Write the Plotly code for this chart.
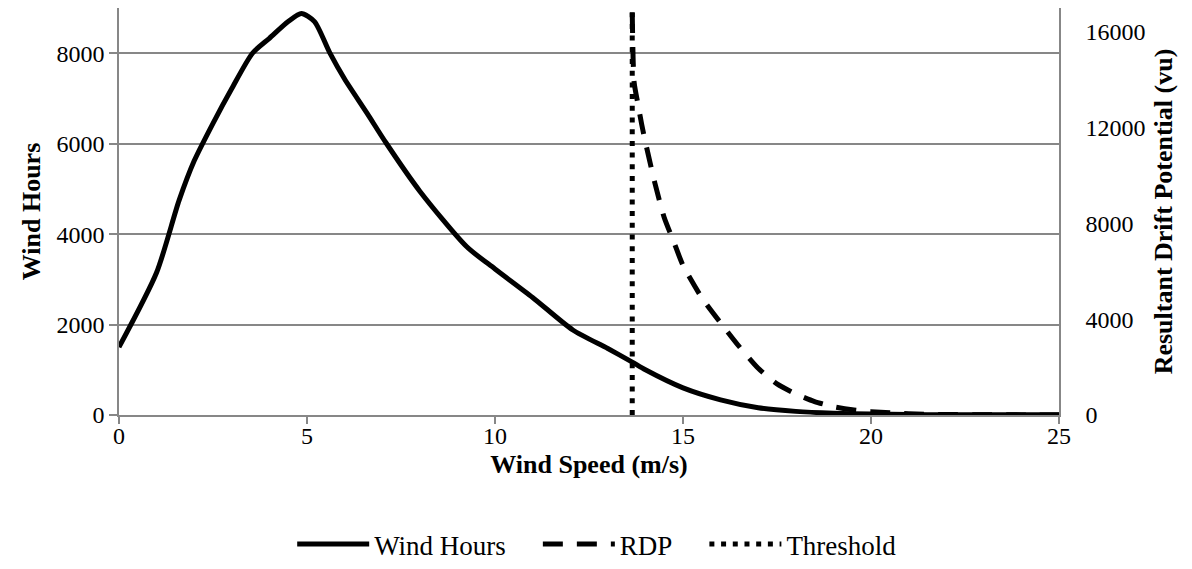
import plotly.graph_objects as go

# Wind speed (m/s) and annual wind hours
speed_hours = [0, 1, 1.6, 2, 2.5, 3, 3.55, 4, 4.5, 4.85, 5.2, 5.6, 6, 6.6, 7.1, 8,
               9.25, 10, 11, 12.07, 13, 13.65, 14, 15, 16, 17, 18, 19, 20, 21, 22, 23, 24, 25]
wind_hours = [1500, 3150, 4750, 5620, 6450, 7220, 8000, 8330, 8700, 8880, 8700, 8020, 7430,
              6670, 6020, 4950, 3720, 3230, 2600, 1880, 1470, 1170, 1000, 600, 335,
              160, 80, 40, 20, 10, 6, 5, 4, 3]

# Resultant drift potential (vu) above the threshold speed
speed_rdp = [13.65, 13.7, 13.8, 13.9, 14.0, 14.25, 14.5, 14.75, 15.0, 15.5, 16.0, 16.5,
             17.0, 17.5, 18.0, 18.5, 19.0, 19.5, 20.0, 21.0, 22.0, 23.0, 24.0, 25.0]
rdp = [16800, 13900, 13000, 12150, 11400, 9700, 8250, 7250, 6250, 4900, 3850, 2850,
       1950, 1300, 880, 560, 350, 220, 140, 50, 20, 10, 5, 0]

# Threshold wind speed (m/s)
threshold_speed = 13.65
threshold_span = [0, 9000]

# Right-axis tick values and labels
rdp_ticks = [0, 4000, 8000, 12000, 16000]
rdp_tick_labels = ["0", "4000", "8000", "12000", "16000"]

FONT = "Liberation Serif, Times New Roman, serif"
AXIS_GREY = "#878787"
PAD = "\u00a0" * 4  # spacing between legend entries

fig = go.Figure()

fig.add_trace(go.Scatter(
    x=speed_hours, y=wind_hours, name="Wind Hours" + PAD, mode="lines",
    line=dict(color="black", width=5, shape="spline", smoothing=0.7),
    yaxis="y",
))
fig.add_trace(go.Scatter(
    x=speed_rdp, y=rdp, name="RDP" + PAD, mode="lines",
    line=dict(color="black", width=5, dash="20px,14px", shape="spline", smoothing=0.6),
    yaxis="y2",
))
fig.add_trace(go.Scatter(
    x=[threshold_speed, threshold_speed], y=threshold_span, name="Threshold", mode="lines",
    line=dict(color="black", width=5, dash="5px,6.7px"),
    yaxis="y",
))

fig.update_layout(
    width=1192, height=569,
    margin=dict(l=119, r=133, t=8, b=154),
    paper_bgcolor="white", plot_bgcolor="white",
    font=dict(family=FONT, size=24, color="black"),
    showlegend=True,
    legend=dict(
        orientation="h", x=0.501, xanchor="center", xref="container",
        y=22, yanchor="middle", yref="container",
        font=dict(family=FONT, size=27, color="black"),
        itemwidth=72, tracegroupgap=0,
    ),
    xaxis=dict(
        range=[0, 25], tickvals=[0, 5, 10, 15, 20, 25],
        showgrid=False, showline=True, linecolor=AXIS_GREY, linewidth=1.5,
        ticks="outside", ticklen=7, tickcolor=AXIS_GREY, tickwidth=1.5,
        tickfont=dict(family=FONT, size=24),
        ticklabelstandoff=-9,
        zeroline=False,
        title=dict(text="<b>Wind Speed (m/s)</b>", font=dict(family=FONT, size=26), standoff=7),
    ),
    yaxis=dict(
        range=[0, 9000], tickvals=[0, 2000, 4000, 6000, 8000],
        showgrid=True, gridcolor=AXIS_GREY, gridwidth=1.5,
        showline=True, linecolor=AXIS_GREY, linewidth=1.5,
        ticks="outside", ticklen=8, tickcolor=AXIS_GREY, tickwidth=1.5,
        tickfont=dict(family=FONT, size=24),
        zeroline=False,
        title=dict(text="<b>Wind Hours</b>", font=dict(family=FONT, size=26), standoff=8),
    ),
    # labelled right axis: long transparent ticks push the labels outward
    yaxis2=dict(
        range=[0, 17000], tickvals=rdp_ticks, ticktext=rdp_tick_labels,
        overlaying="y", side="right", anchor="x",
        showgrid=False, showline=True, linecolor=AXIS_GREY, linewidth=1.5,
        ticks="outside", ticklen=20, tickcolor="rgba(0,0,0,0)", tickwidth=1.5,
        tickfont=dict(family=FONT, size=24),
        zeroline=False,
        title=dict(text="<b>Resultant Drift Potential (vu)</b>", font=dict(family=FONT, size=26), standoff=9),
    ),
    # short visible tick marks on the right axis
    yaxis3=dict(
        range=[0, 17000], tickvals=rdp_ticks,
        overlaying="y", side="right", anchor="x",
        showgrid=False, showline=False, showticklabels=False,
        ticks="outside", ticklen=7, tickcolor=AXIS_GREY, tickwidth=1.5,
        zeroline=False,
    ),
)

fig.write_html("out.html")
